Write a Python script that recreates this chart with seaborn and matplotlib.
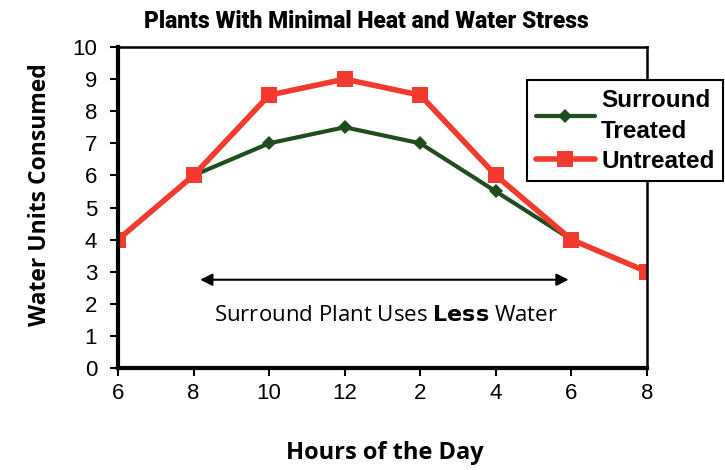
import matplotlib
matplotlib.use("Agg")
import matplotlib.pyplot as plt
import seaborn as sns
import numpy as np
import pandas as pd

hours = ["6", "8", "10", "12", "2", "4", "6", "8"]
surround_treated = [4, 6, 7, 7.5, 7, 5.5, 4, 3]
untreated = [4, 6, 8.5, 9, 8.5, 6, 4, 3]
yticks = list(range(0, 11))

sns.set_theme(style="white")
plt.rcParams['font.family'] = ['Liberation Sans', 'DejaVu Sans']
plt.rcParams['text.color'] = 'black'

pos = np.arange(len(hours))
df = pd.DataFrame({"pos": np.concatenate([pos, pos]),
                   "val": surround_treated + untreated,
                   "series": ["Surround\nTreated"] * len(hours) + ["Untreated"] * len(hours)})

fig = plt.figure(figsize=(7.25, 4.7), dpi=100)
ax = fig.add_axes([118/725, 1-368/470, (647-118)/725, (368-47)/470])

sns.lineplot(data=df[df.series == "Surround\nTreated"], x="pos", y="val", ax=ax,
             color="#1f4d1f", lw=3, marker="D", markersize=7, markeredgewidth=0,
             label="Surround\nTreated")
sns.lineplot(data=df[df.series == "Untreated"], x="pos", y="val", ax=ax,
             color="#f23a2e", lw=4, marker="s", markersize=11, markeredgewidth=0,
             label="Untreated")

ax.set_xlim(0, len(hours) - 1)
ax.set_ylim(0, 10)
ax.set_xticks(pos)
ax.set_xticklabels(hours)
ax.set_yticks(yticks)
ax.tick_params(axis="both", direction="out", length=6, width=1.5, labelsize=16,
               color="black", labelcolor="black", left=True, bottom=True)
ax.tick_params(axis="y", pad=9)
ax.tick_params(axis="x", pad=5)
for s in ["left", "bottom"]:
    ax.spines[s].set_linewidth(3)
    ax.spines[s].set_color("black")
for s in ["top", "right"]:
    ax.spines[s].set_linewidth(1.8)
    ax.spines[s].set_color("black")

ax.set_xlabel("")
ax.set_ylabel("")
fig.text(385/725, 1-453/470, "Hours of the Day", ha="center", va="center",
         fontsize=17, fontweight="bold", color="black", family=["Open Sans", "DejaVu Sans"])
fig.text(40/725, 1-195/470, "Water Units Consumed", ha="center", va="center",
         rotation=90, fontsize=16.5, fontweight="bold", color="black",
         family=["Open Sans", "DejaVu Sans"])
fig.text(366/725, 1-21/470, "Plants With Minimal Heat and Water Stress", ha="center",
         va="center", fontsize=16.5, fontweight="heavy", color="black",
         family=["Roboto", "DejaVu Sans"])

ax.annotate("", xy=(1.05, 2.75), xytext=(6.0, 2.75),
            arrowprops=dict(arrowstyle="<|-|>", color="black", lw=1.5, mutation_scale=18))
ax.text(3.55, 1.65, "Surround Plant Uses $\\bf{Less}$ Water", ha="center", va="center",
        fontsize=16, color="black", family=["Open Sans", "DejaVu Sans"])

leg = ax.legend(loc="upper left", bbox_to_anchor=(527/725, 1-80/470), bbox_transform=fig.transFigure,
                frameon=True, fancybox=False, edgecolor="black", framealpha=1,
                prop=dict(weight="bold", size=17.5), handlelength=2.45, handletextpad=0.25,
                borderpad=0.35, labelspacing=0.3, borderaxespad=0)
leg.get_frame().set_linewidth(1.5)
for t in leg.get_texts():
    t.set_color("black")
    t.set_linespacing(1.45)

fig.savefig("out.png", dpi=100)
